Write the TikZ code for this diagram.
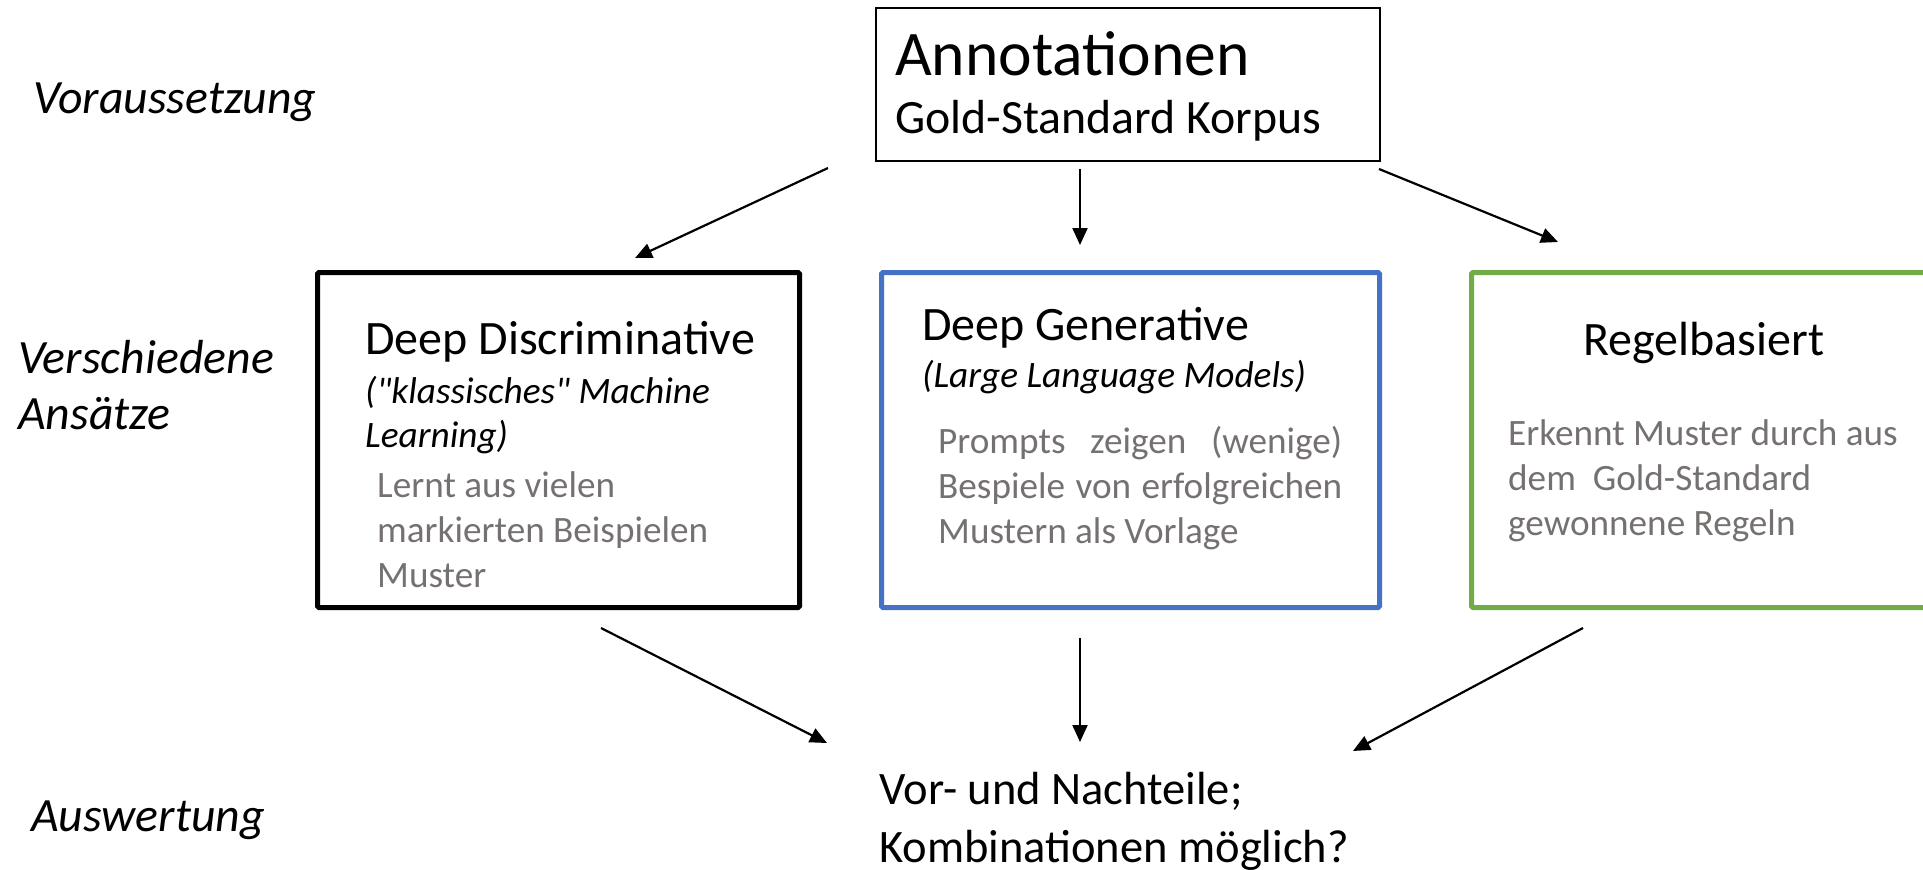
\documentclass[tikz,border=0pt]{standalone}
\usepackage{fontspec}
\setmainfont{Carlito}
\usetikzlibrary{arrows.meta}
\definecolor{boxblue}{HTML}{4472C4}
\definecolor{boxgreen}{HTML}{70AD47}
\definecolor{notegray}{HTML}{767171}
% typewriter-style double quote, set as a glyph so that it stays straight
\newcommand{\dq}{\XeTeXglyph\XeTeXcharglyph"0022\relax}

\begin{document}
% multi-line texts are placed by the baseline of their last line
\begin{tikzpicture}[x=1pt,y=-1pt,
  frame/.style={draw, line width=5pt, rounded corners=1.5pt, inner sep=0pt, outer sep=0pt},
  title/.style={anchor=base west, inner sep=0pt, font=\fontsize{48}{58}\selectfont},
  sub/.style={anchor=base west, inner sep=0pt, align=left, font=\fontsize{37.3}{44}\selectfont\itshape},
  note/.style={anchor=base west, inner sep=0pt, align=left, text=notegray, font=\fontsize{37.2}{44.7}\selectfont},
  phase/.style={anchor=base west, inner sep=0pt, align=left, font=\fontsize{47.8}{56}\selectfont\itshape},
  flow/.style={-{Triangle[length=17pt,width=15pt]}, line width=2.2pt},
]
\useasboundingbox (0,0) rectangle (1923,870);

% phase labels on the left
\node[phase] (pre) at (33,113) {Voraussetzung};
\node[phase] (app) at (18,429) {Verschiedene\\Ansätze};
\node[phase] (eval) at (31,831) {Auswertung};

% source box
\node[draw, line width=2pt, inner sep=0pt, outer sep=0pt,
      minimum width=504pt, minimum height=153pt] (src) at (1128,84.5) {};
\node[anchor=base west, inner sep=0pt, font=\fontsize{63.5}{70}\selectfont] (srcA) at (895,75) {Annotationen};
\node[anchor=base west, inner sep=0pt, font=\fontsize{47.8}{56}\selectfont] (srcB) at (895,133) {Gold-Standard Korpus};

% approach boxes
\node[frame, minimum width=482pt, minimum height=335pt] (dd) at (558.5,440) {};
\node[title] (ddT) at (365,354) {Deep Discriminative};
\node[sub] (ddS) at (365,447) {(\dq klassisches\dq{} Machine\\Learning)};
\node[note] (ddN) at (377,587) {Lernt aus vielen\\markierten Beispielen\\Muster};

\node[frame, draw=boxblue, minimum width=498pt, minimum height=335pt] (dg) at (1130.5,440) {};
\node[title] (dgT) at (922,340) {Deep Generative};
\node[sub] (dgS) at (922,387) {(Large Language Models)};
\node[note] (dgN) at (938,543) {\makebox[404pt][s]{Prompts \hfill zeigen \hfill (wenige)}\\
  \makebox[404pt][s]{Bespiele von erfolgreichen}\\Mustern als Vorlage};

\node[frame, draw=boxgreen, minimum width=463.5pt, minimum height=335pt] (rb) at (1703.25,440) {};
\node[title] (rbT) at (1583,355) {Regelbasiert};
\node[note] (rbN) at (1508,535) {Erkennt Muster durch aus\\dem\ \ Gold-Standard\\gewonnene Regeln};

% result
\node[anchor=base west, inner sep=0pt, align=left, font=\fontsize{46.5}{58}\selectfont] (res) at (879,862)
  {Vor- und Nachteile;\\Kombinationen möglich?};

% connector ends
\coordinate (srcL) at (828,168);
\coordinate (srcM) at (1080,169);
\coordinate (srcR) at (1379,169);
\coordinate (ddIn) at (635,258);
\coordinate (dgIn) at (1080,245);
\coordinate (rbIn) at (1558,242);
\coordinate (ddOut) at (601,628);
\coordinate (dgOut) at (1080,638);
\coordinate (rbOut) at (1583,628);
\coordinate (resL) at (827,743);
\coordinate (resM) at (1080,742);
\coordinate (resR) at (1353,751);

\draw[flow] (srcL) -- (ddIn);
\draw[flow] (srcM) -- (dgIn);
\draw[flow] (srcR) -- (rbIn);
\draw[flow] (ddOut) -- (resL);
\draw[flow] (dgOut) -- (resM);
\draw[flow] (rbOut) -- (resR);
\end{tikzpicture}
\end{document}
